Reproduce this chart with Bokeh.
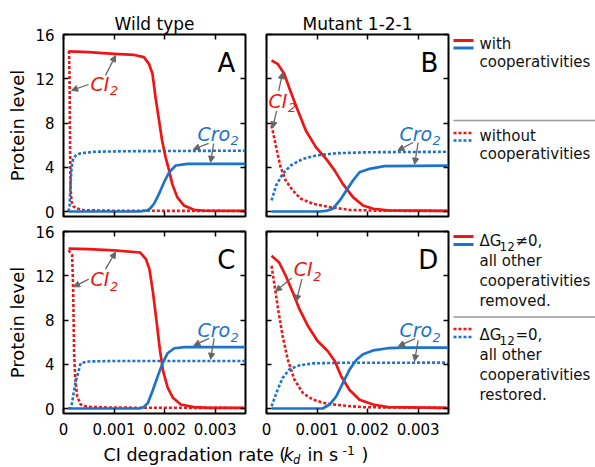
import numpy as np
from bokeh.plotting import figure
from bokeh.layouts import row, column
from bokeh.models import (Range1d, LinearAxis, FixedTicker, CustomJSTickFormatter,
                          Label, Arrow, NormalHead)
from bokeh.core.properties import value
from bokeh.embed import file_html
from bokeh.resources import INLINE

FONT = "DejaVu Sans"
RED = "#f01414"
BLUE = "#1a74cc"
GRAY = "#666666"

# ---------------- data (kd in s^-1, protein level) ----------------
# Panel A: wild type, with / without cooperativities
A_ci_with_kd = [0.0001, 0.0005, 0.001, 0.0014, 0.00159, 0.00169, 0.00176, 0.00182, 0.00189,
                0.00195, 0.00202, 0.00209, 0.00215, 0.00225, 0.00238, 0.00258, 0.0028, 0.0036]
A_ci_with = [14.47, 14.4, 14.25, 14.15, 13.95, 13.35, 12.45, 10.33, 8.23,
             6.42, 4.9, 3.7, 2.5, 1.3, 0.55, 0.15, 0.07, 0.05]
A_cro_with_kd = [0.0001, 0.0015, 0.00166, 0.00172, 0.00179, 0.00189, 0.00199, 0.00209, 0.00222, 0.00245, 0.0036]
A_cro_with = [0.0, 0.0, 0.1, 0.3, 0.7, 1.6, 2.65, 3.55, 4.16, 4.3, 4.3]
A_ci_without_kd = [0.0001, 0.00011, 0.00012, 0.00013, 0.00014, 0.00016, 0.0002, 0.00025, 0.0004, 0.001, 0.0036]
A_ci_without = [14.5, 14.3, 12.0, 6.0, 2.0, 0.9, 0.45, 0.3, 0.12, 0.07, 0.05]
A_cro_without_kd = [0.0001, 0.00012, 0.00014, 0.00016, 0.00019, 0.00025, 0.00034, 0.0006, 0.0012, 0.0036]
A_cro_without = [0.0, 0.5, 2.5, 4.0, 4.76, 5.1, 5.27, 5.4, 5.45, 5.5]

# Panel B: mutant 1-2-1, with / without cooperativities
B_ci_with_kd = [0.0001, 0.00022, 0.00035, 0.00048, 0.00062, 0.00078, 0.00098, 0.00118, 0.00135,
                0.00151, 0.00171, 0.00191, 0.00211, 0.0024, 0.0036]
B_ci_with = [13.65, 13.35, 12.45, 10.8, 9.13, 7.3, 5.8, 4.76, 3.7, 2.5, 1.3, 0.55, 0.25, 0.1, 0.05]
B_cro_with_kd = [0.0001, 0.00105, 0.00118, 0.00131, 0.00145, 0.00158, 0.00171, 0.00184, 0.00204, 0.00233, 0.0036]
B_cro_with = [0.0, 0.0, 0.05, 0.25, 1.0, 1.9, 2.8, 3.55, 3.86, 4.1, 4.15]
B_ci_without_kd = [0.0001, 0.00015, 0.00022, 0.00028, 0.00038, 0.00052, 0.00068, 0.00092, 0.00125, 0.00164, 0.0022, 0.0036]
B_ci_without = [7.78, 6.7, 5.2, 4.0, 2.8, 1.9, 1.15, 0.7, 0.4, 0.15, 0.07, 0.05]
B_cro_without_kd = [0.0001, 0.00019, 0.00032, 0.00048, 0.00072, 0.00098, 0.00138, 0.00204, 0.0036]
B_cro_without = [1.0, 2.35, 3.4, 4.16, 4.76, 5.06, 5.27, 5.36, 5.4]

# Panel C: wild type, dG12 != 0 only / dG12 = 0
C_ci_with_kd = [0.0001, 0.0005, 0.001, 0.00152, 0.00163, 0.0017, 0.00177, 0.00184, 0.00191,
                0.00197, 0.00206, 0.00216, 0.00232, 0.00258, 0.0029, 0.0036]
C_ci_with = [14.46, 14.4, 14.3, 14.1, 13.5, 12.6, 10.5, 7.9, 5.2, 3.4, 1.9, 1.0, 0.36, 0.12, 0.06, 0.05]
C_cro_with_kd = [0.0001, 0.00152, 0.00158, 0.00167, 0.00177, 0.00187, 0.00196, 0.00206, 0.00219, 0.0024, 0.0036]
C_cro_with = [0.0, 0.02, 0.1, 0.5, 1.7, 3.0, 4.1, 5.0, 5.45, 5.55, 5.55]
C_ci_without_kd = [0.0001, 0.00017, 0.00019, 0.0002, 0.00021, 0.00023, 0.00027, 0.00034, 0.00047, 0.001, 0.0036]
C_ci_without = [14.3, 13.9, 11.0, 8.0, 5.0, 2.9, 1.1, 0.36, 0.15, 0.08, 0.05]
C_cro_without_kd = [0.0001, 0.00014, 0.00017, 0.0002, 0.00024, 0.00027, 0.00034, 0.00047, 0.001, 0.0036]
C_cro_without = [0.0, 0.05, 0.5, 1.4, 2.4, 2.9, 4.1, 4.25, 4.3, 4.3]

# Panel D: mutant 1-2-1, dG12 != 0 only / dG12 = 0
D_ci_with_kd = [0.0001, 0.00025, 0.00038, 0.00052, 0.00065, 0.00082, 0.00101, 0.00121, 0.00135,
                0.00148, 0.00164, 0.00184, 0.00211, 0.0024, 0.0036]
D_ci_with = [13.8, 13.2, 12.0, 10.5, 9.0, 7.45, 6.1, 5.2, 4.3, 2.9, 1.7, 0.8, 0.36, 0.12, 0.05]
D_cro_with_kd = [0.0001, 0.00111, 0.00125, 0.00138, 0.00151, 0.00164, 0.00178, 0.00191, 0.00211, 0.0024, 0.0027, 0.0036]
D_cro_with = [0.0, 0.0, 0.36, 1.1, 2.3, 3.5, 4.4, 4.9, 5.25, 5.45, 5.5, 5.5]
D_ci_without_kd = [0.0001, 0.00017, 0.00024, 0.00032, 0.00042, 0.00055, 0.00072, 0.00092, 0.00118, 0.00151, 0.00191, 0.0036]
D_ci_without = [12.9, 10.8, 8.66, 6.55, 4.44, 2.63, 1.4, 0.8, 0.45, 0.27, 0.12, 0.05]
D_cro_without_kd = [0.0001, 0.00022, 0.00032, 0.00045, 0.00065, 0.00092, 0.00138, 0.0036]
D_cro_without = [0.2, 1.7, 2.77, 3.53, 3.9, 4.08, 4.13, 4.15]

X_TICKS = [0, 0.001, 0.002, 0.003]
Y_TICKS = [0, 4, 8, 12, 16]
COLUMN_TITLES = ["Wild type", "Mutant 1-2-1"]
PANEL_LETTERS = ["A", "B", "C", "D"]
Y_LABEL = "Protein level"
LEGEND_TOP = [["with", "cooperativities"], ["without", "cooperativities"]]
LEGEND_BOTTOM = [[("\u0394G", "12", "\u22600,"), "all other", "cooperativities", "removed."],
                 [("\u0394G", "12", "=0,"), "all other", "cooperativities", "restored."]]

DATA = {
    "A": dict(ci_with=(A_ci_with_kd, A_ci_with), cro_with=(A_cro_with_kd, A_cro_with),
              ci_without=(A_ci_without_kd, A_ci_without), cro_without=(A_cro_without_kd, A_cro_without)),
    "B": dict(ci_with=(B_ci_with_kd, B_ci_with), cro_with=(B_cro_with_kd, B_cro_with),
              ci_without=(B_ci_without_kd, B_ci_without), cro_without=(B_cro_without_kd, B_cro_without)),
    "C": dict(ci_with=(C_ci_with_kd, C_ci_with), cro_with=(C_cro_with_kd, C_cro_with),
              ci_without=(C_ci_without_kd, C_ci_without), cro_without=(C_cro_without_kd, C_cro_without)),
    "D": dict(ci_with=(D_ci_with_kd, D_ci_with), cro_with=(D_cro_with_kd, D_cro_with),
              ci_without=(D_ci_without_kd, D_ci_without), cro_without=(D_cro_without_kd, D_cro_without)),
}

# annotation layout: label baseline anchors, arrows (tail x, tail y, curve, head x, head dy, explicit head y)
ANNOT = {
    "A": dict(ci=(0.000535, 10.94), cro=(0.00265, 6.42),
              arrows=[(0.00083, 12.3, "ci_with", 0.00103, -0.15, None),
                      (0.000495, 11.48, None, 0.00016, 0, 10.95),
                      (0.00287, 6.15, "cro_without", 0.00257, 0.15, None),
                      (0.00297, 6.15, "cro_with", 0.00291, 0.15, None)]),
    "B": dict(ci=(0.00004, 9.4), cro=(0.00263, 6.42),
              arrows=[(0.00024, 10.9, "ci_with", 0.00032, -0.1, None),
                      (0.0002, 9.1, "ci_without", 0.00012, 0.2, None),
                      (0.0029, 6.24, "cro_without", 0.0026, 0.15, None),
                      (0.003, 6.24, "cro_with", 0.00293, 0.15, None)]),
    "C": dict(ci=(0.000535, 11.08), cro=(0.00265, 6.49),
              arrows=[(0.00083, 12.6, "ci_with", 0.00103, -0.15, None),
                      (0.0005, 11.7, None, 0.0002, 0, 11.0),
                      (0.00288, 6.34, "cro_with", 0.00258, 0.15, None),
                      (0.00298, 6.34, "cro_without", 0.00291, 0.15, None)]),
    "D": dict(ci=(0.00054, 11.98), cro=(0.00263, 6.49),
              arrows=[(0.0005, 11.8, "ci_without", 0.00018, 0.1, None),
                      (0.0007, 11.7, "ci_with", 0.00059, 0.0, None),
                      (0.00294, 6.32, "cro_with", 0.00261, 0.15, None),
                      (0.003, 6.19, "cro_without", 0.00293, 0.15, None)]),
}

PX_PER_UNIT = 182 / 16.45  # vertical pixels per protein-level unit in a panel
MID = 0.35                  # em offset between baseline and visual middle


def up(y, size_px):
    """data y of a text middle, given its baseline y"""
    return y + MID * size_px / PX_PER_UNIT


def on_curve(curve, x):
    xs, ys = curve
    return float(np.interp(x, xs, ys))


def style_axis(ax, ticks, labels, standoff):
    ax.ticker = FixedTicker(ticks=ticks)
    ax.major_tick_in = 5
    ax.major_tick_out = 0
    ax.minor_tick_in = 0
    ax.minor_tick_out = 0
    ax.major_tick_line_width = 1.5
    ax.axis_line_color = None
    ax.major_label_text_font = FONT
    ax.major_label_text_color = "black"
    if labels:
        ax.major_label_text_font_size = "15px"
        ax.major_label_standoff = standoff
    else:
        ax.formatter = CustomJSTickFormatter(code="return '';")
        ax.major_label_text_font_size = "0px"
        ax.major_label_standoff = 0


def make_panel(letter, title, show_x, show_y, borders):
    left, right, top, bottom = borders
    kw = dict(frame_width=182, frame_height=182,
              x_range=Range1d(0, 0.0036), y_range=Range1d(-0.45, 16),
              min_border_left=left, min_border_right=right,
              min_border_top=top, min_border_bottom=bottom,
              toolbar_location=None, output_backend="svg")
    if title:
        kw["title"] = title
    p = figure(**kw)
    if title:
        p.title.align = "center"
        p.title.text_font = FONT
        p.title.text_font_size = "17px"
        p.title.text_font_style = "normal"
        p.title.text_color = "black"
        p.title.standoff = 1
    p.grid.visible = False
    p.outline_line_color = "black"
    p.outline_line_width = 2
    p.background_fill_color = "white"
    p.border_fill_color = "white"

    for ax in p.xaxis:
        style_axis(ax, X_TICKS, show_x, 9)
        if show_x:
            ax.formatter = CustomJSTickFormatter(code="return tick == 0 ? '0' : tick.toFixed(3);")
    for ax in p.yaxis:
        style_axis(ax, Y_TICKS, show_y, 9)
        if show_y:
            ax.axis_label = Y_LABEL
            ax.axis_label_text_font = FONT
            ax.axis_label_text_font_size = "18px"
            ax.axis_label_text_font_style = "normal"
            ax.axis_label_text_color = "black"
            ax.axis_label_standoff = 4
    ra = LinearAxis()
    style_axis(ra, Y_TICKS, False, 0)
    p.add_layout(ra, "right")
    ta = LinearAxis()
    style_axis(ta, X_TICKS, False, 0)
    p.add_layout(ta, "above")

    d = DATA[letter]
    p.line(*d["ci_without"], line_color=RED, line_width=2.6, line_dash="3 2")
    p.line(*d["cro_without"], line_color=BLUE, line_width=2.6, line_dash="3 2")
    p.line(*d["ci_with"], line_color=RED, line_width=2.7, line_join="round")
    p.line(*d["cro_with"], line_color=BLUE, line_width=2.7, line_join="round")

    p.add_layout(Label(x=0.0034, y=up(12.6, 26), text=letter, text_align="right",
                       text_baseline="middle", text_font=FONT, text_font_size="26px",
                       text_color="black"))

    a = ANNOT[letter]
    for (lx, ly), main, color, off in ((a["ci"], "CI", RED, 19.5), (a["cro"], "Cro", BLUE, 33)):
        p.add_layout(Label(x=lx, y=up(ly, 19), text=main, text_color=color, text_font=FONT,
                           text_font_size="19px", text_font_style="italic",
                           text_baseline="middle", text_align="left"))
        p.add_layout(Label(x=lx, y=up(ly - 0.45, 13), x_offset=off, text="2", text_color=color,
                           text_font=FONT, text_font_size="13px", text_font_style="italic",
                           text_baseline="middle", text_align="left"))
    for tx, ty, ckey, hx, dy, hy in a["arrows"]:
        yy = hy if hy is not None else on_curve(d[ckey], hx) + dy
        p.add_layout(Arrow(x_start=tx, y_start=ty, x_end=hx, y_end=yy,
                           line_color=GRAY, line_width=1.3,
                           end=NormalHead(size=6, fill_color=GRAY, line_color=GRAY, line_width=1)))
    return p


pA = make_panel("A", COLUMN_TITLES[0], False, True, (63, 10, 34, 7))
pB = make_panel("B", COLUMN_TITLES[1], False, False, (11, 2, 34, 7))
pC = make_panel("C", None, True, True, (63, 10, 8, 30))
pD = make_panel("D", None, True, False, (11, 2, 8, 30))

# ---------------- legend panel (page pixel coordinates, y down) ----------------
leg = figure(width=145, height=443, x_range=Range1d(450, 595), y_range=Range1d(443, 0),
             x_axis_type=None, y_axis_type=None, toolbar_location=None,
             output_backend="svg", min_border=0)
leg.grid.visible = False
leg.outline_line_color = None
TXT = dict(text_font=value(FONT), text_font_size="15px", text_color="#111111",
           text_baseline="middle", text_align="left")


def mid(baseline, size):
    return baseline - MID * size


# top legend
leg.line([453, 473], [40, 40], line_color=RED, line_width=3)
leg.line([453, 473], [47.5, 47.5], line_color=BLUE, line_width=3)
leg.text(x=[479, 479], y=[mid(48.5, 15), mid(67, 15)], text=LEGEND_TOP[0], **TXT)
leg.line([453, 595], [120, 120], line_color="#999999", line_width=1.5)
leg.line([453, 473], [132.5, 132.5], line_color=RED, line_width=2.6, line_dash="3 2")
leg.line([453, 473], [140, 140], line_color=BLUE, line_width=2.6, line_dash="3 2")
leg.text(x=[479, 479], y=[mid(140.5, 15), mid(159, 15)], text=LEGEND_TOP[1], **TXT)

# bottom legend
for i, (y_red, y_blue, y0, dash) in enumerate(((236, 244, 246, None), (328.5, 336.5, 339.5, "3 2"))):
    lkw = dict(line_width=3) if dash is None else dict(line_width=2.6, line_dash=dash)
    leg.line([453, 473], [y_red, y_red], line_color=RED, **lkw)
    leg.line([453, 473], [y_blue, y_blue], line_color=BLUE, **lkw)
    head, *rest = LEGEND_BOTTOM[i]
    leg.text(x=[479], y=[mid(y0, 15)], text=[head[0]], **TXT)
    leg.text(x=[499], y=[mid(y0 + 4.5, 12)], text=[head[1]],
             **{**TXT, "text_font_size": "12px"})
    leg.text(x=[515], y=[mid(y0, 15)], text=[head[2]], **TXT)
    leg.text(x=[479] * len(rest), y=[mid(y0 + 20 * (k + 1), 15) for k in range(len(rest))],
             text=rest, **TXT)
leg.line([453, 595], [316.5, 316.5], line_color="#999999", line_width=1.5)

# ---------------- x axis label strip (page pixel coordinates, y down) ----------------
xl = figure(width=595, height=24, x_range=Range1d(0, 595), y_range=Range1d(467, 443),
            x_axis_type=None, y_axis_type=None, toolbar_location=None,
            output_backend="svg", min_border=0)
xl.grid.visible = False
xl.outline_line_color = None
XT = dict(text_font=value(FONT), text_color="black", text_baseline="middle", text_align="left")
xl.text(x=[103], y=[mid(461, 17.5)], text=["CI degradation rate ("], text_font_size="17.5px", **XT)
xl.text(x=[283], y=[mid(461, 17.5)], text=["k"], text_font_size="17.5px", text_font_style="italic", **XT)
xl.text(x=[292.5], y=[mid(463.5, 11.5)], text=["d"], text_font_size="11.5px", text_font_style="italic", **XT)
xl.text(x=[307], y=[mid(461, 17.5)], text=["in s"], text_font_size="17.5px", **XT)
xl.text(x=[342], y=[mid(454, 12.5)], text=["-1"], text_font_size="12.5px", **XT)
xl.text(x=[361], y=[mid(461, 17.5)], text=[")"], text_font_size="17.5px", **XT)

layout = column(row(column(pA, pC), column(pB, pD), leg), xl)

open("out.html", "w").write(file_html(layout, INLINE))
